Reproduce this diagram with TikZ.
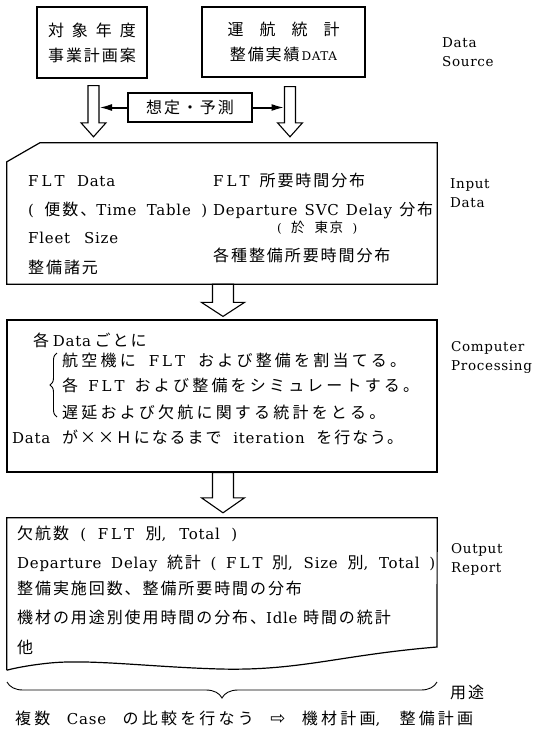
\documentclass[tikz,border=0pt]{standalone}
\usepackage{fontspec}
\setmainfont{DejaVu Serif}[LetterSpace=5]
\newfontfamily\cjkf{Noto Sans CJK JP}[LetterSpace=12]
\newfontfamily\cjkw{Noto Sans CJK JP}[LetterSpace=20]
\newfontfamily\dejavu{DejaVu Sans}
\usetikzlibrary{calc,arrows.meta,decorations.pathreplacing}
\newcommand\J[1]{{\cjkf\fontsize{16}{20}\selectfont #1}}
\newcommand\Jw[1]{{\cjkw\fontsize{16}{20}\selectfont #1}}
\newcommand\Js[1]{{\cjkf\fontsize{13.5}{16}\selectfont #1}}
\newcommand\FLT{F\kern3pt L\kern3pt T}
\newcommand\fw[2]{\makebox[#1pt][s]{#2}}
\newcommand\hollowarrow[5]{%
  \draw[hollow] let \p1=(#1), \p2=(#2) in
   (\x1-#3pt,\y1) -- (\x1-#3pt,\y2+#5pt) -- (\x1-#4pt,\y2+#5pt) -- (\x1,\y2)
   -- (\x1+#4pt,\y2+#5pt) -- (\x1+#3pt,\y2+#5pt) -- (\x1+#3pt,\y1) -- cycle;}
\begin{document}
\begin{tikzpicture}[x=1pt,y=-1pt,
  box/.style={draw, inner sep=0pt, line width=1.2pt},
  txt/.style={anchor=base west, inner sep=0pt, font=\fontsize{15}{20}\selectfont},
  lbl/.style={anchor=west, inner sep=0pt, align=left, font=\fontsize{13.5}{19}\selectfont},
  hollow/.style={draw, line width=1.1pt, fill=white, line join=miter},
  feed/.style={line width=2pt, -{Latex[length=13pt,width=7pt]}},
  brc/.style={decorate, line width=0.9pt}]
\fill[white] (0,0) rectangle (538,732);
\useasboundingbox (0,0) rectangle (538,732);

% data source boxes
\node[box, minimum width=110pt, minimum height=71pt, align=center,
      font=\fontsize{16}{25}\selectfont] (box1) at (92,42.5)
  {\fw{88}{\J{対 象 年 度}}\\\J{事業計画案}};
\node[box, minimum width=163pt, minimum height=70pt, align=center,
      font=\fontsize{12}{25}\selectfont] (box2) at (283.5,42)
  {\fw{112}{\J{運 航 統 計}}\\\J{整備実績}\,DATA};
\node[box, minimum width=124pt, minimum height=29pt] (pred) at (190,107.5)
  {\J{想定・予測}};

% input data
\node[minimum width=430pt, minimum height=141pt, inner sep=0pt] (inp) at (222,213.5) {};
\draw[box] ($(inp.north west)+(33,0)$) -- (inp.north east) -- (inp.south east)
  -- (inp.south west) -- ($(inp.north west)+(0,19)$) -- cycle;

% computer processing
\node[box, minimum width=430pt, minimum height=152pt] (comp) at (222,396) {};

% output report
\node[minimum width=430pt, minimum height=152pt, inner sep=0pt] (out) at (222,594) {};
\draw[box] (out.south west) -- (out.north west) -- (out.north east) -- (437,647)
  .. controls (340,655) and (300,671) .. (220,669)
  .. controls (150,667) and (90,659) .. (50,663)
  .. controls (30,665) and (15,668) .. (out.south west);

% hollow arrows
\coordinate (l1) at ($(box1.south)+(1.5,7)$);
\coordinate (l2) at ($(l1 |- inp.north)+(0,-6)$);
\coordinate (r1) at ($(box2.south)+(6.5,9)$);
\coordinate (r2) at ($(r1 |- inp.north)+(0,-6)$);
\hollowarrow{l1}{l2}{5.5}{12.5}{14}
\hollowarrow{r1}{r2}{5.5}{12.5}{14}
\coordinate (m1) at ($(inp.south)+(1,0)$);
\coordinate (m2) at ($(comp.north)+(1,-3)$);
\hollowarrow{m1}{m2}{10.5}{21.5}{14}
\coordinate (n1) at ($(comp.south)+(1,0)$);
\coordinate (n2) at ($(out.north)+(1,-5)$);
\hollowarrow{n1}{n2}{10.5}{21.5}{15}

\draw[feed] (pred.west) -- ($(pred.west -| l1)+(5.5,0)$);
\draw[feed] (pred.east) -- ($(pred.east -| r1)+(-5.5,0)$);

% input texts
\node[txt] (i1) at (28,186) {\fw{87}{\FLT{} Data}};
\node[txt] (i2) at (28,215) {\fw{179}{( \J{便数、}Time Table )}};
\node[txt] (i3) at (28,243) {\fw{90}{Fleet Size}};
\node[txt] (i4) at (28,273) {\J{整備諸元}};
\node[txt] (i5) at (213,186) {\fw{152}{\FLT{} \J{所要時間分布}}};
\node[txt] (i6) at (213,215) {\fw{220}{Departure SVC Delay \J{分布}}};
\node[txt, font=\fontsize{12}{16}\selectfont] (i7) at (277,232) {\fw{80}{( \Js{於 東京} )}};
\node[txt] (i8) at (213,261) {\J{各種整備所要時間分布}};

% computer texts
\node[txt] (c1) at (33,346) {\fw{102}{\J{各} Data \J{ごとに}}};
\draw[brc, decoration={brace, amplitude=7pt}] (57,417) -- (57,353);
\node[txt] (c2) at (62,366) {\fw{344}{\Jw{航空機に} \FLT{} \Jw{および整備を割当てる。}}};
\node[txt] (c3) at (62,391) {\fw{357}{\Jw{各} \FLT{} \Jw{および整備をシミュレートする。}}};
\node[txt] (c4) at (62,418) {\Jw{遅延および欠航に関する統計をとる。}};
\node[txt] (c5) at (12,443) {\fw{391}{Data \J{が××Ｈになるまで} iteration \J{を行なう。}}};

% output texts
\node[txt] (o1) at (17,539) {\fw{220}{\J{欠航数} ( \FLT{} \J{別}, Total )}};
\node[txt] (o2) at (17,568) {\fw{418}{Departure Delay \J{統計} ( \FLT{} \J{別}, Size \J{別}, Total )}};
\node[txt] (o3) at (17,594) {\J{整備実施回数、整備所要時間の分布}};
\node[txt] (o4) at (17,623) {\J{機材の用途別使用時間の分布、}Idle \J{時間の統計}};
\node[txt] (o5) at (17,653) {\J{他}};

% brace and usage
\draw[brc, decoration={brace, amplitude=16pt}] (437,682) -- (7,682);
\node[txt] (use) at (15,724) {\fw{458}{\Jw{複数} Case \Jw{の比較を行なう} {\dejavu\fontsize{18}{20}\selectfont ⇨} \Jw{機材計画}, \Jw{整備計画}}};

% side labels
\node[lbl] (ds) at (442,52) {Data\\Source};
\node[lbl] (id) at (450,193) {Input\\Data};
\node[lbl] (cp) at (451,357) {Computer\\Processing};
\node[lbl] (orp) at (451,559) {Output\\Report};
\node[lbl] (yt) at (450,692) {\J{用途}};
\end{tikzpicture}
\end{document}
